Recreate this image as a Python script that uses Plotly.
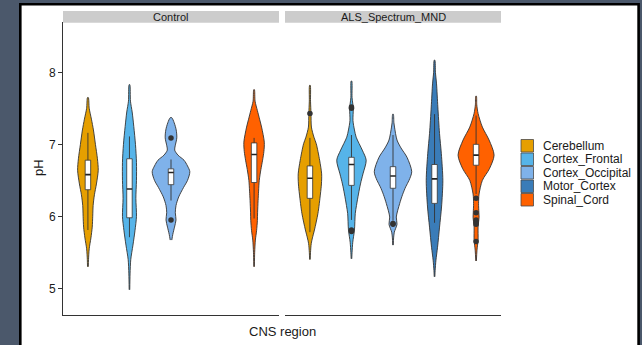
import plotly.graph_objects as go

# ---------------- data ----------------
regions = ["Cerebellum", "Cortex_Frontal", "Cortex_Occipital", "Motor_Cortex", "Spinal_Cord"]
groups = ["Control", "ALS_Spectrum_MND"]
region_colors = ["#E69F00", "#56B4E9", "#7FB2EA", "#3A7CB8", "#FF6100"]

# violin outlines: pH levels (top -> bottom) and half-width (relative density)
ctrl_cereb_ph = [7.65, 7.50, 7.35, 7.20, 7.00, 6.80, 6.64, 6.45, 6.30, 6.15, 6.00, 5.85, 5.70, 5.55, 5.40, 5.30]
ctrl_cereb_d = [0.4, 1.3, 3.5, 5.5, 7.5, 9.5, 10.3, 8.5, 6.5, 5.2, 4.8, 4.3, 3.0, 1.3, 0.6, 0.4]
ctrl_front_ph = [7.83, 7.60, 7.45, 7.25, 7.00, 6.75, 6.50, 6.25, 6.00, 5.80, 5.60, 5.40, 5.20, 4.98]
ctrl_front_d = [0.3, 1.0, 2.7, 4.3, 6.0, 7.0, 7.0, 6.4, 7.0, 5.5, 3.5, 1.3, 0.6, 0.3]
ctrl_occ_ph = [7.37, 7.30, 7.20, 7.09, 6.98, 6.92, 6.85, 6.78, 6.70, 6.62, 6.50, 6.40, 6.27, 6.15, 6.05, 5.95, 5.85, 5.75, 5.67]
ctrl_occ_d = [0.8, 3.2, 5.2, 5.8, 4.2, 3.7, 7.0, 13.0, 16.5, 18.8, 16.5, 12.5, 7.7, 5.0, 4.3, 5.0, 3.5, 1.8, 0.8]
ctrl_spinal_ph = [7.76, 7.60, 7.47, 7.35, 7.24, 7.03, 6.90, 6.78, 6.65, 6.50, 6.35, 6.22, 6.05, 5.94, 5.80, 5.67, 5.50, 5.30]
ctrl_spinal_d = [0.3, 1.0, 3.3, 5.5, 7.5, 10.2, 9.8, 8.5, 6.8, 5.2, 4.5, 4.0, 3.5, 3.3, 2.5, 1.3, 0.6, 0.3]

als_cereb_ph = [7.82, 7.60, 7.43, 7.24, 7.10, 7.01, 6.78, 6.59, 6.45, 6.31, 6.04, 5.81, 5.70, 5.62, 5.50, 5.40]
als_cereb_d = [0.3, 0.6, 1.1, 1.5, 4.0, 6.3, 9.7, 11.7, 11.5, 10.5, 8.0, 4.5, 2.5, 1.3, 0.6, 0.3]
als_front_ph = [7.88, 7.65, 7.50, 7.33, 7.20, 7.10, 6.92, 6.78, 6.59, 6.45, 6.31, 6.15, 6.04, 5.81, 5.64, 5.50, 5.41]
als_front_d = [0.3, 0.6, 1.8, 1.5, 3.0, 4.7, 10.8, 14.7, 11.5, 9.0, 7.0, 5.0, 3.8, 3.0, 1.3, 0.6, 0.3]
als_occ_ph = [7.42, 7.30, 7.24, 7.06, 6.95, 6.82, 6.62, 6.50, 6.41, 6.30, 6.18, 5.99, 5.89, 5.78, 5.70, 5.60]
als_occ_d = [0.3, 0.9, 1.5, 4.0, 8.0, 14.0, 18.7, 16.0, 12.7, 9.5, 6.7, 3.3, 4.0, 1.3, 0.6, 0.3]
als_motor_ph = [8.17, 8.00, 7.84, 7.52, 7.15, 6.87, 6.50, 6.13, 5.85, 5.57, 5.39, 5.25, 5.16]
als_motor_d = [0.3, 0.9, 2.0, 3.3, 5.0, 6.8, 8.3, 7.0, 5.0, 3.0, 1.4, 0.6, 0.3]
als_spinal_ph = [7.67, 7.55, 7.43, 7.24, 7.06, 6.85, 6.66, 6.50, 6.31, 6.18, 6.05, 5.99, 5.85, 5.67, 5.53, 5.38]
als_spinal_d = [0.3, 0.7, 2.0, 6.3, 13.0, 18.0, 13.3, 6.3, 3.0, 2.5, 2.8, 3.0, 2.0, 2.0, 0.9, 0.3]

# boxplot statistics (None = region absent)
ctrl_lower = [5.81, 5.71, 6.22, None, 5.97]
ctrl_q1 = [6.37, 5.98, 6.44, None, 6.47]
ctrl_median = [6.58, 6.38, 6.61, None, 6.86]
ctrl_q3 = [6.78, 6.80, 6.66, None, 7.02]
ctrl_upper = [7.16, 7.11, 6.79, None, 7.09]

als_lower = [5.78, 5.95, 5.94, 5.91, 6.31]
als_q1 = [6.25, 6.43, 6.39, 6.18, 6.71]
als_median = [6.53, 6.72, 6.56, 6.52, 6.85]
als_q3 = [6.70, 6.82, 6.69, 6.72, 7.00]
als_upper = [7.09, 7.13, 7.13, 7.42, 7.40]

# outliers
ctrl_out_region = ["Cortex_Occipital", "Cortex_Occipital"]
ctrl_out_ph = [7.09, 5.95]
als_out_region = ["Cerebellum", "Cortex_Frontal", "Cortex_Frontal", "Cortex_Frontal", "Cortex_Frontal",
                  "Cortex_Occipital", "Cortex_Occipital",
                  "Spinal_Cord", "Spinal_Cord", "Spinal_Cord", "Spinal_Cord", "Spinal_Cord", "Spinal_Cord"]
als_out_ph = [7.43, 7.50, 7.52, 5.79, 5.81, 5.89, 5.90, 6.25, 6.05, 5.95, 5.92, 5.89, 5.65]

y_ticks = [5, 6, 7, 8]

# ---------------- figure ----------------
W, H = 642, 345
def px(x):
    return x / W
def py(y):
    return 1 - y / H

DENS_TO_UNITS = 1 / 41.5
BOX_HALF = 0.066
pos = {r: i + 1 for i, r in enumerate(regions)}
col = dict(zip(regions, region_colors))

violins = {
    "Control": [("Cerebellum", ctrl_cereb_ph, ctrl_cereb_d), ("Cortex_Frontal", ctrl_front_ph, ctrl_front_d),
                ("Cortex_Occipital", ctrl_occ_ph, ctrl_occ_d), ("Spinal_Cord", ctrl_spinal_ph, ctrl_spinal_d)],
    "ALS_Spectrum_MND": [("Cerebellum", als_cereb_ph, als_cereb_d), ("Cortex_Frontal", als_front_ph, als_front_d),
                         ("Cortex_Occipital", als_occ_ph, als_occ_d), ("Motor_Cortex", als_motor_ph, als_motor_d),
                         ("Spinal_Cord", als_spinal_ph, als_spinal_d)],
}
boxes = {
    "Control": (ctrl_lower, ctrl_q1, ctrl_median, ctrl_q3, ctrl_upper),
    "ALS_Spectrum_MND": (als_lower, als_q1, als_median, als_q3, als_upper),
}
outs = {
    "Control": (ctrl_out_region, ctrl_out_ph),
    "ALS_Spectrum_MND": (als_out_region, als_out_ph),
}
axis_of = {"Control": "x", "ALS_Spectrum_MND": "x2"}

fig = go.Figure()
for g in groups:
    xa = axis_of[g]
    for reg, ph, d in violins[g]:
        c = pos[reg]
        hw = [v * DENS_TO_UNITS for v in d]
        xs = [c + w for w in hw[::-1]] + [c - w for w in hw]
        ys = list(ph[::-1]) + list(ph)
        fig.add_trace(go.Scatter(x=xs, y=ys, xaxis=xa, yaxis="y", mode="lines",
                                 line=dict(color="#333333", width=0.9, shape="spline", smoothing=0.8),
                                 fill="toself", fillcolor=col[reg], showlegend=False, hoverinfo="skip"))
    lo, q1, med, q3, up = boxes[g]
    for i, reg in enumerate(regions):
        if med[i] is None:
            continue
        c = pos[reg]
        # whiskers
        fig.add_trace(go.Scatter(x=[c, c, None, c, c], y=[lo[i], q1[i], None, q3[i], up[i]],
                                 xaxis=xa, yaxis="y", mode="lines",
                                 line=dict(color="#333333", width=0.9), showlegend=False, hoverinfo="skip"))
        # box
        fig.add_trace(go.Scatter(x=[c - BOX_HALF, c + BOX_HALF, c + BOX_HALF, c - BOX_HALF, c - BOX_HALF],
                                 y=[q1[i], q1[i], q3[i], q3[i], q1[i]], xaxis=xa, yaxis="y", mode="lines",
                                 fill="toself", fillcolor="white",
                                 line=dict(color="#333333", width=0.8), showlegend=False, hoverinfo="skip"))
        # median
        fig.add_trace(go.Scatter(x=[c - BOX_HALF, c + BOX_HALF], y=[med[i], med[i]], xaxis=xa, yaxis="y",
                                 mode="lines", line=dict(color="#222222", width=1.6),
                                 showlegend=False, hoverinfo="skip"))
    oreg, oph = outs[g]
    fig.add_trace(go.Scatter(x=[pos[r] for r in oreg], y=oph, xaxis=xa, yaxis="y", mode="markers",
                             marker=dict(color="#333333", size=5.5), showlegend=False, hoverinfo="skip"))

shapes = []
annotations = []
# outer frame
shapes.append(dict(type="rect", xref="paper", yref="paper", x0=px(20.3), x1=px(638.6), y0=-0.05, y1=py(4.3),
                   fillcolor="white", line=dict(color="black", width=2.6), layer="below"))
# strips
strip_x = {"Control": (63, 279), "ALS_Spectrum_MND": (285, 501)}
for g in groups:
    a, b = strip_x[g]
    shapes.append(dict(type="rect", xref="paper", yref="paper", x0=px(a), x1=px(b), y0=py(22.7), y1=py(11),
                       fillcolor="#CCCCCC", line=dict(width=0), layer="below"))
    annotations.append(dict(text=g, xref="paper", yref="paper", x=px((a + b) / 2), y=py(17),
                            showarrow=False, font=dict(size=11, color="#1a1a1a"), xanchor="center", yanchor="middle"))
# legend
for i, reg in enumerate(regions):
    y0 = 139 + i * 13.5
    shapes.append(dict(type="rect", xref="paper", yref="paper", x0=px(521), x1=px(533.5), y0=py(y0 + 13), y1=py(y0 + 0.5),
                       fillcolor=col[reg], line=dict(color="#4a4a4a", width=0.8)))
    annotations.append(dict(text=reg, xref="paper", yref="paper", x=px(541), y=py(y0 + 6.8),
                            showarrow=False, font=dict(size=12, color="#1a1a1a"), xanchor="left", yanchor="middle"))
# axis titles
annotations.append(dict(text="pH", xref="paper", yref="paper", x=px(38), y=py(168), textangle=-90,
                        showarrow=False, font=dict(size=13, color="#1a1a1a"), xanchor="center", yanchor="middle"))
annotations.append(dict(text="CNS region", xref="paper", yref="paper", x=px(282), y=py(331),
                        showarrow=False, font=dict(size=13, color="#1a1a1a"), xanchor="center", yanchor="middle"))

xcommon = dict(range=[0.4, 5.6], showgrid=False, zeroline=False, showticklabels=False, ticks="",
               showline=True, linecolor="#333333", linewidth=1, anchor="y", fixedrange=True)
fig.update_layout(
    width=W, height=H, margin=dict(l=0, r=0, t=0, b=0),
    paper_bgcolor="#4B586B", plot_bgcolor="rgba(0,0,0,0)",
    font=dict(family="Liberation Sans, Arial, sans-serif", color="#1a1a1a"),
    showlegend=False,
    xaxis=dict(domain=[px(63), px(279)], **xcommon),
    xaxis2=dict(domain=[px(285), px(501)], **xcommon),
    yaxis=dict(domain=[py(315.3), py(22)], range=[4.625, 8.70], tickvals=y_ticks,
               ticktext=[str(v) for v in y_ticks], ticks="outside", ticklen=4, tickcolor="#333333",
               tickfont=dict(size=12, color="#1a1a1a"), showgrid=False, zeroline=False,
               showline=True, linecolor="#333333", linewidth=1, anchor="x"),
    shapes=shapes, annotations=annotations,
)
fig.write_html("out.html")
